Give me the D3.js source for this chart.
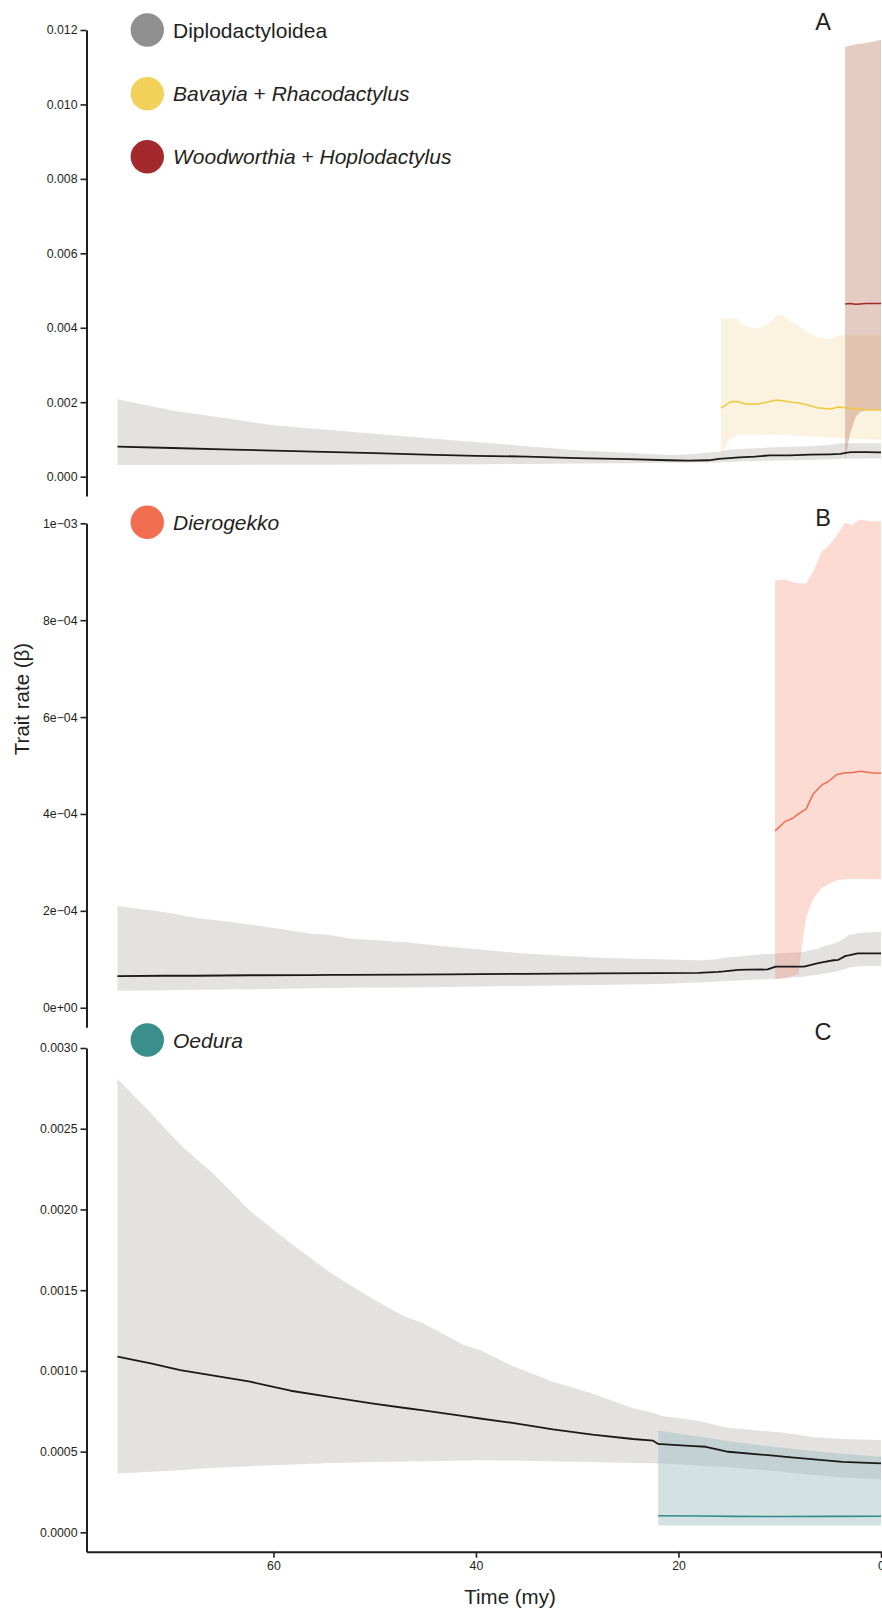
<!DOCTYPE html>
<html>
<head>
<meta charset="utf-8">
<script src="https://cdn.jsdelivr.net/npm/d3@7/dist/d3.min.js"></script>
<style>
  html, body { margin: 0; padding: 0; background: #fff; }
  svg { display: block; }
  text { font-family: "Liberation Sans", Arial, Helvetica, sans-serif; fill: #231f20; }
</style>
</head>
<body>
<svg id="chart" width="882" height="1610"></svg>
<script>
// ---------------- DATA ----------------
// Time axis (million years before present)
const xTickValues = [60, 40, 20, 0];
const xTickLabels = ["60", "40", "20", "0"];

// Panel A tick values / labels
const yTicksA = [0, 0.002, 0.004, 0.006, 0.008, 0.010, 0.012];
const yLabelsA = ["0.000", "0.002", "0.004", "0.006", "0.008", "0.010", "0.012"];
// Panel B
const yTicksB = [0, 0.0002, 0.0004, 0.0006, 0.0008, 0.001];
const yLabelsB = ["0e+00", "2e\u221204", "4e\u221204", "6e\u221204", "8e\u221204", "1e\u221203"];
// Panel C
const yTicksC = [0, 0.0005, 0.0010, 0.0015, 0.0020, 0.0025, 0.0030];
const yLabelsC = ["0.0000", "0.0005", "0.0010", "0.0015", "0.0020", "0.0025", "0.0030"];

// Panel A – Diplodactyloidea
const aDiploTime = [75.4, 70, 65, 60, 55, 50, 45, 40, 35, 30, 25, 21, 19, 17, 16, 15, 14, 12.5, 11, 9, 7, 5, 4, 3.5, 3, 1.5, 0];
const aDiploHigh = [0.00208, 0.00178, 0.00158, 0.00138, 0.00127, 0.00115, 0.00104, 0.00093, 0.00082, 0.00071, 0.00064, 0.00058, 0.00060, 0.00065, 0.00067, 0.00072, 0.00074, 0.00076, 0.00078, 0.00080, 0.00082, 0.00086, 0.00090, 0.00090, 0.00090, 0.00090, 0.00090];
const aDiploMean = [0.000805, 0.00077, 0.000735, 0.00070, 0.000665, 0.00063, 0.00059, 0.00056, 0.00054, 0.00050, 0.00047, 0.00044, 0.00043, 0.00044, 0.00048, 0.00050, 0.00052, 0.00054, 0.00057, 0.00057, 0.00059, 0.00060, 0.00061, 0.00064, 0.00066, 0.00066, 0.00065];
const aDiploLow  = [0.00031, 0.00031, 0.000315, 0.00032, 0.00032, 0.000325, 0.00033, 0.000335, 0.00034, 0.00035, 0.00036, 0.00037, 0.00037, 0.00038, 0.00038, 0.00040, 0.00041, 0.00042, 0.00043, 0.00044, 0.00045, 0.00047, 0.00048, 0.00048, 0.00048, 0.00049, 0.00049];

// Panel A – Bavayia + Rhacodactylus
const aBavTime = [15.8, 15.2, 14.9, 14.2, 13.4, 12.1, 11.1, 10.3, 9.6, 8.8, 8.4, 7.3, 6.3, 5.0, 4.2, 3.1, 1.4, 0];
const aBavHigh = [0.00425, 0.00425, 0.00425, 0.00425, 0.00403, 0.00398, 0.00412, 0.00434, 0.00432, 0.00413, 0.00410, 0.00387, 0.00376, 0.00369, 0.00380, 0.00380, 0.00380, 0.00380];
const aBavMean = [0.00184, 0.00195, 0.00201, 0.00202, 0.00195, 0.00195, 0.00201, 0.00206, 0.00203, 0.00200, 0.00199, 0.00193, 0.00185, 0.00182, 0.00187, 0.00184, 0.00179, 0.00179];
const aBavLow  = [0.00054, 0.00090, 0.00100, 0.00112, 0.00114, 0.00113, 0.00113, 0.00112, 0.00112, 0.00111, 0.00110, 0.00109, 0.00107, 0.00105, 0.00104, 0.00102, 0.00100, 0.00099];

// Panel A – Woodworthia + Hoplodactylus
const aWoodTime = [3.55, 3.06, 2.5, 2.07, 1.5, 1.1, 0];
const aWoodHigh = [0.01154, 0.01158, 0.01162, 0.01163, 0.01165, 0.01167, 0.01174];
const aWoodMean = [0.00464, 0.00465, 0.00463, 0.00464, 0.00465, 0.00465, 0.00465];
const aWoodLow  = [0.00045, 0.00116, 0.00160, 0.00174, 0.00178, 0.00179, 0.00179];

// Panel B – Diplodactyloidea
const bDiploTime = [75.4, 70.7, 67.7, 62.3, 56.4, 54.4, 52.5, 47, 42.6, 35.2, 27.9, 22, 18, 16.1, 15.5, 14.1, 13.1, 11.2, 10.4, 7.6, 7.4, 6.2, 5.7, 4.7, 4.2, 3.5, 3.2, 2.3, 1.8, 0];
const bDiploHigh = [2.10e-4, 1.97e-4, 1.86e-4, 1.72e-4, 1.53e-4, 1.50e-4, 1.43e-4, 1.35e-4, 1.26e-4, 1.12e-4, 1.03e-4, 1.00e-4, 0.98e-4, 1.00e-4, 1.03e-4, 1.06e-4, 1.08e-4, 1.11e-4, 1.12e-4, 1.15e-4, 1.17e-4, 1.22e-4, 1.27e-4, 1.32e-4, 1.36e-4, 1.45e-4, 1.50e-4, 1.54e-4, 1.55e-4, 1.57e-4];
const bDiploMean = [0.654e-4, 0.66e-4, 0.66e-4, 0.67e-4, 0.675e-4, 0.68e-4, 0.68e-4, 0.685e-4, 0.69e-4, 0.70e-4, 0.71e-4, 0.715e-4, 0.72e-4, 0.74e-4, 0.75e-4, 0.78e-4, 0.785e-4, 0.79e-4, 0.85e-4, 0.85e-4, 0.86e-4, 0.92e-4, 0.94e-4, 0.98e-4, 0.99e-4, 1.07e-4, 1.08e-4, 1.12e-4, 1.12e-4, 1.12e-4];
const bDiploLow  = [0.35e-4, 0.36e-4, 0.37e-4, 0.38e-4, 0.40e-4, 0.405e-4, 0.41e-4, 0.42e-4, 0.43e-4, 0.45e-4, 0.47e-4, 0.49e-4, 0.52e-4, 0.54e-4, 0.55e-4, 0.56e-4, 0.57e-4, 0.59e-4, 0.60e-4, 0.64e-4, 0.65e-4, 0.68e-4, 0.70e-4, 0.74e-4, 0.76e-4, 0.80e-4, 0.83e-4, 0.85e-4, 0.86e-4, 0.86e-4];

// Panel B – Dierogekko
const bDierTime = [10.46, 9.6, 9.3, 8.8, 8.15, 7.8, 7.4, 6.7, 5.85, 5.2, 4.4, 3.55, 2.9, 2.07, 1.0, 0];
const bDierHigh = [8.82e-4, 8.84e-4, 8.83e-4, 8.79e-4, 8.76e-4, 8.76e-4, 8.76e-4, 9.00e-4, 9.42e-4, 9.53e-4, 9.74e-4, 10.01e-4, 9.97e-4, 10.08e-4, 10.04e-4, 10.04e-4];
const bDierMean = [3.65e-4, 3.82e-4, 3.86e-4, 3.90e-4, 4.00e-4, 4.05e-4, 4.10e-4, 4.41e-4, 4.60e-4, 4.67e-4, 4.81e-4, 4.85e-4, 4.85e-4, 4.88e-4, 4.85e-4, 4.84e-4];
const bDierLow  = [0.59e-4, 0.61e-4, 0.62e-4, 0.65e-4, 0.69e-4, 1.29e-4, 1.86e-4, 2.25e-4, 2.47e-4, 2.55e-4, 2.63e-4, 2.65e-4, 2.65e-4, 2.66e-4, 2.65e-4, 2.65e-4];

// Panel C – Diplodactyloidea
const cDiploTime = [75.4, 72.0, 69.2, 65.9, 62.3, 58.3, 54.3, 50.3, 47.0, 45.2, 41.2, 39.6, 36.4, 32.4, 28.5, 24.5, 22.5, 22.0, 21.7, 18.5, 17.3, 15.3, 15.1, 10.6, 9.4, 6.6, 3.8, 0];
const cDiploHigh = [28.1e-4, 25.9e-4, 24.0e-4, 22.2e-4, 19.9e-4, 17.9e-4, 16.05e-4, 14.5e-4, 13.36e-4, 12.95e-4, 11.6e-4, 11.3e-4, 10.3e-4, 9.33e-4, 8.6e-4, 7.68e-4, 7.41e-4, 7.3e-4, 7.2e-4, 6.96e-4, 6.8e-4, 6.5e-4, 6.48e-4, 6.23e-4, 6.15e-4, 5.89e-4, 5.78e-4, 5.72e-4];
const cDiploMean = [10.88e-4, 10.45e-4, 10.05e-4, 9.7e-4, 9.33e-4, 8.77e-4, 8.38e-4, 7.99e-4, 7.7e-4, 7.55e-4, 7.2e-4, 7.05e-4, 6.78e-4, 6.38e-4, 6.05e-4, 5.78e-4, 5.68e-4, 5.47e-4, 5.46e-4, 5.34e-4, 5.30e-4, 5.02e-4, 4.99e-4, 4.75e-4, 4.68e-4, 4.52e-4, 4.37e-4, 4.27e-4];
const cDiploLow  = [3.65e-4, 3.75e-4, 3.85e-4, 4.0e-4, 4.1e-4, 4.2e-4, 4.3e-4, 4.35e-4, 4.38e-4, 4.4e-4, 4.45e-4, 4.47e-4, 4.45e-4, 4.4e-4, 4.35e-4, 4.3e-4, 4.28e-4, 4.27e-4, 4.26e-4, 4.15e-4, 4.1e-4, 4.05e-4, 4.03e-4, 3.8e-4, 3.72e-4, 3.55e-4, 3.4e-4, 3.28e-4];

// Panel C – Oedura
const cOedTime = [22.0, 18.0, 14.5, 10.0, 5.0, 0];
const cOedHigh = [6.30e-4, 5.93e-4, 5.60e-4, 5.25e-4, 4.93e-4, 4.68e-4];
const cOedMean = [1.03e-4, 1.01e-4, 0.99e-4, 0.98e-4, 0.99e-4, 1.00e-4];
const cOedLow  = [0.43e-4, 0.43e-4, 0.43e-4, 0.43e-4, 0.43e-4, 0.43e-4];

// ---------------- DRAW ----------------
const svg = d3.select("#chart");
const FONT = "'Liberation Sans', Arial, Helvetica, sans-serif";
const INK = "#231f20";

const x = d3.scaleLinear().domain([78.46, 0]).range([86.5, 881]);

const panels = [
  { y: d3.scaleLinear().domain([-0.00052, 0.012]).range([496, 30]),
    ticks: yTicksA, labels: yLabelsA, letter: "A", letterY: 30,
    series: [
      { t: aDiploTime, hi: aDiploHigh, mu: aDiploMean, lo: aDiploLow, band: "#e3e2e1", bandOp: 1, line: "#1a1a1a", lw: 1.8 },
      { t: aBavTime, hi: aBavHigh, mu: aBavMean, lo: aBavLow, band: "rgb(236,196,100)", bandOp: 0.2, line: "#f0c93f", lw: 1.5 },
      { t: aWoodTime, hi: aWoodHigh, mu: aWoodMean, lo: aWoodLow, band: "rgb(170,85,55)", bandOp: 0.3, line: "#a3292c", lw: 1.5 }
    ],
    legend: [
      { cy: 30, color: "#8f8f8f", parts: [["Diplodactyloidea", "normal"]] },
      { cy: 93.7, color: "#f2d15b", parts: [["Bavayia", "italic"], [" + ", "normal"], ["Rhacodactylus", "italic"]] },
      { cy: 156.7, color: "#a3292c", parts: [["Woodworthia", "italic"], [" + ", "normal"], ["Hoplodactylus", "italic"]] }
    ]
  },
  { y: d3.scaleLinear().domain([-0.0000404, 0.001]).range([1027.3, 523.3]),
    ticks: yTicksB, labels: yLabelsB, letter: "B", letterY: 526,
    series: [
      { t: bDiploTime, hi: bDiploHigh, mu: bDiploMean, lo: bDiploLow, band: "#e3e2e1", bandOp: 1, line: "#1a1a1a", lw: 1.8 },
      { t: bDierTime, hi: bDierHigh, mu: bDierMean, lo: bDierLow, band: "rgb(242,110,80)", bandOp: 0.25, line: "#f26e50", lw: 1.5 }
    ],
    legend: [
      { cy: 522.3, color: "#f26e50", parts: [["Dierogekko", "italic"]] }
    ]
  },
  { y: d3.scaleLinear().domain([-0.00012, 0.003]).range([1551.7, 1048]),
    ticks: yTicksC, labels: yLabelsC, letter: "C", letterY: 1039.5,
    series: [
      { t: cDiploTime, hi: cDiploHigh, mu: cDiploMean, lo: cDiploLow, band: "#e3e2e1", bandOp: 1, line: "#1a1a1a", lw: 1.8 },
      { t: cOedTime, hi: cOedHigh, mu: cOedMean, lo: cOedLow, band: "rgb(160,190,192)", bandOp: 0.464, line: "#2f8c89", lw: 1.6 }
    ],
    legend: [
      { cy: 1040, color: "#3a8f8c", parts: [["Oedura", "italic"]] }
    ]
  }
];

panels.forEach(p => {
  const g = svg.append("g");
  const rows = s => s.t.map((t, i) => ({ t, hi: s.hi[i], mu: s.mu[i], lo: s.lo[i] }));
  const area = d3.area().x(d => x(d.t)).y0(d => p.y(d.lo)).y1(d => p.y(d.hi));
  const line = d3.line().x(d => x(d.t)).y(d => p.y(d.mu));

  // bands
  p.series.forEach(s => {
    g.append("path").datum(rows(s)).attr("d", area)
      .attr("fill", s.band).attr("fill-opacity", s.bandOp).attr("stroke", "none");
  });
  // lines
  p.series.forEach(s => {
    g.append("path").datum(rows(s)).attr("d", line)
      .attr("fill", "none").attr("stroke", s.line).attr("stroke-width", s.lw)
      .attr("stroke-linejoin", "round");
  });

  // y axis
  const ax = g.append("g").attr("transform", "translate(86.5,0)")
    .call(d3.axisLeft(p.y).tickValues(p.ticks)
      .tickFormat((d, i) => p.labels[i]).tickSize(6).tickSizeOuter(0).tickPadding(3));
  ax.select(".domain").attr("stroke", INK).attr("stroke-width", 2);
  ax.selectAll(".tick line").attr("stroke", INK).attr("stroke-width", 1.6);
  ax.selectAll(".tick text").attr("font-size", 12.3).attr("font-family", FONT).attr("fill", INK);

  // panel letter
  g.append("text").attr("x", 823).attr("y", p.letterY).attr("text-anchor", "middle")
    .attr("font-size", 23.5).attr("font-family", FONT).text(p.letter);

  // legend
  p.legend.forEach(l => {
    g.append("circle").attr("cx", 147.3).attr("cy", l.cy).attr("r", 16.7).attr("fill", l.color);
    const t = g.append("text").attr("x", 173).attr("y", l.cy + 7.5)
      .attr("font-size", 21).attr("font-family", FONT);
    l.parts.forEach(pt => t.append("tspan").attr("font-style", pt[1]).text(pt[0]));
  });
});

// x axis (bottom)
const xa = svg.append("g").attr("transform", "translate(0,1551.7)")
  .call(d3.axisBottom(x).tickValues(xTickValues).tickFormat((d, i) => xTickLabels[i])
    .tickSize(6).tickSizeOuter(0).tickPadding(4));
xa.select(".domain").attr("stroke", INK).attr("stroke-width", 2);
xa.selectAll(".tick line").attr("stroke", INK).attr("stroke-width", 1.6);
xa.selectAll(".tick text").attr("font-size", 12.3).attr("font-family", FONT).attr("fill", INK);

// axis titles
svg.append("text").attr("x", 510).attr("y", 1604).attr("text-anchor", "middle")
  .attr("font-size", 20.5).attr("font-family", FONT).text("Time (my)");
svg.append("text").attr("transform", "translate(29,699) rotate(-90)").attr("text-anchor", "middle")
  .attr("font-size", 20.5).attr("font-family", FONT).text("Trait rate (\u03B2)");
</script>
</body>
</html>
